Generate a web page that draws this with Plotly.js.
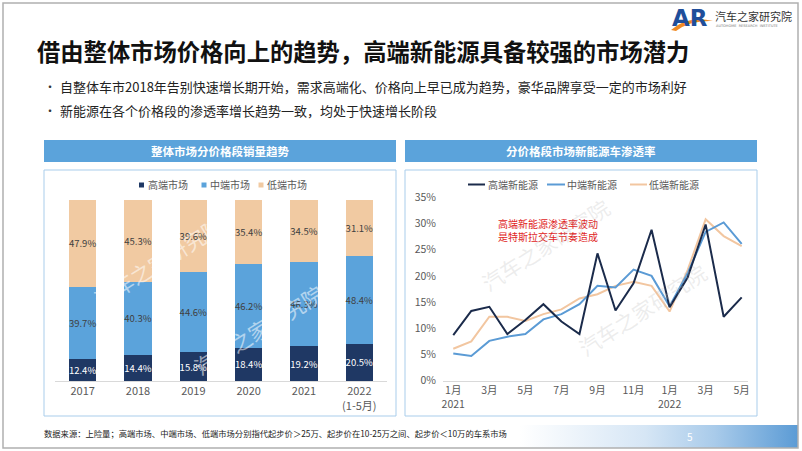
<!DOCTYPE html>
<html>
<head>
<meta charset="utf-8">
<script src="https://cdn.plot.ly/plotly-3.0.1.min.js"></script>
<style>
  html, body { margin: 0; padding: 0; background: #ffffff; }
  #wrap { position: relative; width: 802px; height: 451px; overflow: hidden; }
  #grad { position: absolute; left: 520px; top: 425px; width: 278px; height: 23px;
          background: linear-gradient(to right, rgba(255,255,255,0) 0%, #d6e6f5 45%, #a9cbea 70%, #5b9bd5 100%); }
  #chart { position: absolute; left: 0; top: 0; width: 802px; height: 451px; }
</style>
</head>
<body>
<div id="wrap">
  <div id="grad"></div>
  <div id="chart"></div>
</div>
<script>
// ---------- data ----------
const years = ['2017', '2018', '2019', '2020', '2021', '2022'];
const yearLabels = ['2017', '2018', '2019', '2020', '2021', '2022<br>(1-5月)'];
const highShare = [12.4, 14.4, 15.8, 18.4, 19.2, 20.5];
const midShare = [39.7, 40.3, 44.6, 46.2, 46.3, 48.4];
const lowShare = [47.9, 45.3, 39.6, 35.4, 34.5, 31.1];

const months = ['2021-01', '2021-02', '2021-03', '2021-04', '2021-05', '2021-06', '2021-07', '2021-08',
                '2021-09', '2021-10', '2021-11', '2021-12', '2022-01', '2022-02', '2022-03', '2022-04', '2022-05'];
const highNEV = [8.7, 13.3, 14.1, 8.9, 11.6, 14.6, 11.3, 8.9, 24.3, 13.4, 18.6, 28.8, 14.0, 19.7, 29.8, 12.2, 15.9];
const midNEV  = [5.2, 4.7, 7.6, 8.4, 8.9, 11.7, 12.7, 14.6, 18.1, 17.8, 21.2, 20.0, 14.2, 20.5, 28.4, 30.2, 26.1];
const lowNEV  = [6.1, 7.5, 12.2, 12.2, 11.4, 12.7, 13.6, 15.7, 16.5, 18.1, 18.9, 18.1, 13.2, 21.1, 30.8, 27.6, 25.7];
const monthTickVals = ['2021-01', '2021-03', '2021-05', '2021-07', '2021-09', '2021-11', '2022-01', '2022-03', '2022-05'];
const monthTickText = ['1月<br>2021', '3月', '5月', '7月', '9月', '11月', '1月<br>2022', '3月', '5月'];
const yPctTicks = [0, 5, 10, 15, 20, 25, 30, 35];
const yPctLabels = ['0%', '5%', '10%', '15%', '20%', '25%', '30%', '35%'];

// ---------- helpers ----------
const W = 802, H = 451;
const px = x => x / W;
const py = y => 1 - y / H;
const FONT = 'Noto Sans CJK SC, Noto Sans, sans-serif';
const GRAY = '#595959';
const C_HIGH = '#1F3864', C_MID = '#5BA3DB', C_LOW = '#F1CAA2';
const L_HIGH = '#1B2B4B', L_MID = '#5B9BD5', L_LOW = '#F2C6A0';

const barCommon = { type: 'bar', x: years, texttemplate: '%{y:.1f}%', textposition: 'inside',
  insidetextanchor: 'middle', textangle: 0, constraintext: 'none', xaxis: 'x', yaxis: 'y', hoverinfo: 'skip' };

const traces = [
  Object.assign({}, barCommon, { y: highShare, name: '高端市场', marker: { color: C_HIGH },
    textfont: { color: '#ffffff', size: 9.5, family: FONT } }),
  Object.assign({}, barCommon, { y: midShare, name: '中端市场', marker: { color: C_MID },
    textfont: { color: '#404040', size: 9.5, family: FONT } }),
  Object.assign({}, barCommon, { y: lowShare, name: '低端市场', marker: { color: C_LOW },
    textfont: { color: '#404040', size: 9.5, family: FONT } }),
  { type: 'scatter', mode: 'lines', x: months, y: lowNEV, name: '低端新能源',
    line: { color: L_LOW, width: 2 }, xaxis: 'x2', yaxis: 'y2', hoverinfo: 'skip' },
  { type: 'scatter', mode: 'lines', x: months, y: midNEV, name: '中端新能源',
    line: { color: L_MID, width: 2 }, xaxis: 'x2', yaxis: 'y2', hoverinfo: 'skip' },
  { type: 'scatter', mode: 'lines', x: months, y: highNEV, name: '高端新能源',
    line: { color: L_HIGH, width: 2 }, xaxis: 'x2', yaxis: 'y2', hoverinfo: 'skip' }
];

const shapes = [
  // slide border
  { type: 'rect', xref: 'paper', yref: 'paper', x0: px(3), x1: px(798), y0: py(448), y1: py(3),
    line: { color: '#B0B0B0', width: 1.5 }, layer: 'below' },
  // left header + panel
  { type: 'rect', xref: 'paper', yref: 'paper', x0: px(44), x1: px(396), y0: py(162), y1: py(140),
    fillcolor: '#5BA3DB', line: { width: 0 }, layer: 'below' },
  { type: 'rect', xref: 'paper', yref: 'paper', x0: px(44), x1: px(396), y0: py(416), y1: py(170),
    line: { color: '#A9CDEB', width: 1 }, layer: 'below' },
  // right header + panel
  { type: 'rect', xref: 'paper', yref: 'paper', x0: px(405), x1: px(757), y0: py(162), y1: py(140),
    fillcolor: '#5BA3DB', line: { width: 0 }, layer: 'below' },
  { type: 'rect', xref: 'paper', yref: 'paper', x0: px(405), x1: px(757), y0: py(416), y1: py(170),
    line: { color: '#A9CDEB', width: 1 }, layer: 'below' },
  // left legend squares
  { type: 'rect', xref: 'paper', yref: 'paper', x0: px(139), x1: px(144), y0: py(187.5), y1: py(182.5),
    fillcolor: C_HIGH, line: { width: 0 } },
  { type: 'rect', xref: 'paper', yref: 'paper', x0: px(201.5), x1: px(206.5), y0: py(187.5), y1: py(182.5),
    fillcolor: C_MID, line: { width: 0 } },
  { type: 'rect', xref: 'paper', yref: 'paper', x0: px(258.5), x1: px(263.5), y0: py(187.5), y1: py(182.5),
    fillcolor: C_LOW, line: { width: 0 } },
  // right legend lines
  { type: 'line', xref: 'paper', yref: 'paper', x0: px(468), x1: px(485), y0: py(184.5), y1: py(184.5),
    line: { color: L_HIGH, width: 2 } },
  { type: 'line', xref: 'paper', yref: 'paper', x0: px(547), x1: px(565), y0: py(184.5), y1: py(184.5),
    line: { color: L_MID, width: 2 } },
  { type: 'line', xref: 'paper', yref: 'paper', x0: px(630), x1: px(647), y0: py(184.5), y1: py(184.5),
    line: { color: L_LOW, width: 2 } },
  // logo swoosh
  { type: 'path', xref: 'paper', yref: 'paper',
    path: `M ${px(671)},${py(30)} Q ${px(688)},${py(15)} ${px(713)},${py(21)} Q ${px(690)},${py(20)} ${px(676)},${py(31)} Z`,
    fillcolor: '#F08A24', line: { width: 0 } }
];

const ann = (x, y, text, opts = {}) => Object.assign({
  xref: 'paper', yref: 'paper', x: px(x), y: py(y), text: text, showarrow: false,
  xanchor: 'left', yanchor: 'middle', font: { family: FONT, size: 10, color: GRAY }
}, opts);

const annotations = [
  // title
  ann(35, 51, '<b>借由整体市场价格向上的趋势，高端新能源具备较强的市场潜力</b>', { font: { family: FONT, size: 23.3, color: '#111111' } }),
  // bullets
  ann(42, 87, '•', { font: { family: FONT, size: 12, color: '#333333' } }),
  ann(58, 87, '自整体车市2018年告别快速增长期开始，需求高端化、价格向上早已成为趋势，豪华品牌享受一定的市场利好', { font: { family: FONT, size: 13, color: '#222222' } }),
  ann(42, 110, '•', { font: { family: FONT, size: 12, color: '#333333' } }),
  ann(58, 110, '新能源在各个价格段的渗透率增长趋势一致，均处于快速增长阶段', { font: { family: FONT, size: 13, color: '#222222' } }),
  // headers
  ann(220, 151, '<b>整体市场分价格段销量趋势</b>', { xanchor: 'center', font: { family: FONT, size: 11.5, color: '#ffffff' } }),
  ann(581, 151, '<b>分价格段市场新能源车渗透率</b>', { xanchor: 'center', font: { family: FONT, size: 11.5, color: '#ffffff' } }),
  // left legend text
  ann(145.5, 184.5, '高端市场'),
  ann(207.5, 184.5, '中端市场'),
  ann(264.5, 184.5, '低端市场'),
  // right legend text
  ann(485.5, 184.5, '高端新能源'),
  ann(565, 184.5, '中端新能源'),
  ann(647, 184.5, '低端新能源'),
  // callout
  ann(548, 230, '高端新能源渗透率波动<br>是特斯拉交车节奏造成', { xanchor: 'center', align: 'center',
      font: { family: FONT, size: 10, color: '#E02424' } }),
  // footer
  ann(42, 433, '数据来源：上险量；高端市场、中端市场、低端市场分别指代起步价＞25万、起步价在10-25万之间、起步价＜10万的车系市场',
      { font: { family: FONT, size: 8.3, color: '#222222' } }),
  ann(690, 436, '5', { xanchor: 'center', font: { family: FONT, size: 10, color: '#ffffff' } }),
  // logo
  ann(670, 18, '<b>AR</b>', { font: { family: 'DejaVu Sans', size: 23, color: '#1F4E9A' } }),
  ann(713, 16, '汽车之家研究院', { font: { family: FONT, size: 11, color: '#333333' } }),
  ann(714, 26, 'AUTOHOME  RESEARCH  INSTITUTE', { font: { family: 'DejaVu Sans', size: 3.5, color: '#777777' } }),
  // watermarks
  ann(158, 262, '汽车之家研究院', { xanchor: 'center', textangle: -32, font: { family: FONT, size: 21, color: 'rgba(255,255,255,0.55)' } }),
  ann(258, 330, '汽车之家研究院', { xanchor: 'center', textangle: -32, font: { family: FONT, size: 21, color: 'rgba(255,255,255,0.55)' } }),
  ann(545, 245, '汽车之家研究院', { xanchor: 'center', textangle: -33, font: { family: FONT, size: 21, color: 'rgba(190,190,190,0.28)' } }),
  ann(642, 310, '汽车之家研究院', { xanchor: 'center', textangle: -33, font: { family: FONT, size: 21, color: 'rgba(190,190,190,0.28)' } })
];

const layout = {
  width: W, height: H, autosize: false,
  margin: { l: 0, r: 0, t: 0, b: 0 },
  paper_bgcolor: 'rgba(0,0,0,0)', plot_bgcolor: 'rgba(0,0,0,0)',
  font: { family: FONT, color: GRAY },
  showlegend: false,
  barmode: 'stack', bargap: 0.51,
  uniformtext: { mode: 'show', minsize: 9.5 },
  xaxis: { domain: [px(55), px(387)], anchor: 'y', type: 'category',
           tickvals: years, ticktext: yearLabels, tickfont: { size: 11, color: GRAY },
           showline: true, linecolor: '#D9D9D9', linewidth: 1, ticks: '', showgrid: false, zeroline: false, fixedrange: true },
  yaxis: { domain: [py(381), py(200)], anchor: 'x', range: [0, 100], visible: false, fixedrange: true },
  xaxis2: { domain: [px(443), px(748)], anchor: 'y2', type: 'category', categoryarray: months,
            range: [-0.57, 16.35], tickvals: monthTickVals, ticktext: monthTickText,
            tickfont: { size: 10.5, color: GRAY }, showline: true, linecolor: '#D9D9D9', linewidth: 1,
            ticks: '', showgrid: false, zeroline: false, fixedrange: true },
  yaxis2: { domain: [py(380.7), py(197.3)], anchor: 'x2', range: [0, 35], tickmode: 'array',
            tickvals: yPctTicks, ticktext: yPctLabels,
            tickfont: { size: 10.5, color: GRAY }, showgrid: false, zeroline: false,
            showline: false, ticks: '', ticklabelstandoff: 6, fixedrange: true },
  shapes: shapes,
  annotations: annotations
};

Plotly.newPlot('chart', traces, layout, { staticPlot: true, displayModeBar: false });
</script>
</body>
</html>
